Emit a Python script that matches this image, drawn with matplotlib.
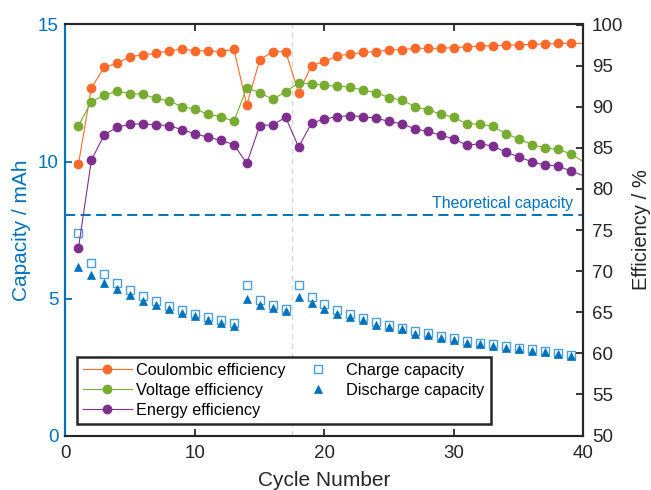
import matplotlib
matplotlib.use("Agg")
import matplotlib.pyplot as plt

plt.rcParams['font.family'] = ['Liberation Sans', 'DejaVu Sans']

# ---- data -------------------------------------------------------------
cycles = list(range(1, 41))          # efficiencies logged through cycle 40
cap_cycles = list(range(1, 40))      # capacities for cycles 1-39

coulombic_eff = [83.0, 92.3, 94.8, 95.3, 96.1, 96.3, 96.5, 96.8, 97.0, 96.8,
                 96.8, 96.7, 97.0, 90.2, 95.7, 96.7, 96.7, 91.7, 95.0, 95.5,
                 96.2, 96.4, 96.6, 96.7, 96.9, 96.95, 97.1, 97.1, 97.1, 97.2,
                 97.25, 97.4, 97.4, 97.5, 97.5, 97.6, 97.6, 97.7, 97.7, 97.7]
voltage_eff = [87.7, 90.6, 91.4, 91.9, 91.6, 91.5, 91.0, 90.7, 90.0, 89.7,
               89.1, 88.8, 88.2, 92.3, 91.7, 90.9, 91.8, 92.9, 92.8, 92.6,
               92.5, 92.4, 92.0, 91.7, 91.1, 90.8, 90.0, 89.6, 89.1, 88.7,
               87.9, 87.9, 87.6, 86.7, 86.1, 85.4, 85.0, 84.8, 84.3, 83.3]
energy_eff = [72.8, 83.5, 86.6, 87.5, 87.9, 87.9, 87.8, 87.7, 87.2, 86.7,
              86.3, 85.9, 85.4, 83.1, 87.7, 87.8, 88.7, 85.1, 88.0, 88.5,
              88.8, 88.9, 88.8, 88.6, 88.2, 87.9, 87.3, 87.0, 86.5, 86.1,
              85.3, 85.5, 85.2, 84.5, 83.9, 83.3, 82.9, 82.8, 82.2, 81.6]

charge_cap = [7.40, 6.31, 5.88, 5.57, 5.31, 5.09, 4.90, 4.72, 4.57, 4.45,
              4.33, 4.21, 4.11, 5.49, 4.96, 4.76, 4.63, 5.49, 5.04, 4.79,
              4.57, 4.43, 4.29, 4.13, 4.05, 3.94, 3.80, 3.74, 3.62, 3.57,
              3.45, 3.39, 3.34, 3.26, 3.21, 3.15, 3.08, 3.01, 2.95]
discharge_cap = [6.16, 5.85, 5.57, 5.33, 5.12, 4.91, 4.76, 4.60, 4.48, 4.35,
                 4.23, 4.11, 3.99, 4.98, 4.78, 4.67, 4.55, 5.06, 4.84, 4.60,
                 4.43, 4.33, 4.21, 4.05, 3.96, 3.88, 3.72, 3.66, 3.57, 3.49,
                 3.39, 3.35, 3.28, 3.21, 3.15, 3.10, 3.04, 2.98, 2.91]

theoretical_cap = 8.04
electrolyte_refresh = 17.5

x_ticks = [0, 10, 20, 30, 40]
cap_ticks = [0, 5, 10, 15]
eff_ticks = list(range(50, 101, 5))

# ---- styling ----------------------------------------------------------
BLUE = '#0072BD'
SQ_BLUE = '#4A9FDC'
ORANGE = '#FF6A2B'
GREEN = '#77AC30'
PURPLE = '#7E2F8E'
DARK = '#262626'
TICK_FS = 13.5
LABEL_FS = 15
SPINE_W = 1.5

fig = plt.figure(figsize=(6.51, 4.90), dpi=100)
ax = fig.add_axes([0.1006, 0.1112, 0.7957, 0.8388])
ax2 = ax.twinx()

# capacity (left axis)
ax.axvline(electrolyte_refresh, color='#D8D8D8', lw=1.0, ls=(0, (4, 3)), zorder=1)
ax.axhline(theoretical_cap, color=BLUE, lw=1.4, ls=(0, (5.2, 2.8)), zorder=2)
ax.annotate('Theoretical capacity', xy=(1, theoretical_cap),
            xycoords=('axes fraction', 'data'), xytext=(-7.6, 5),
            textcoords='offset points', ha='right', va='baseline',
            color=BLUE, fontsize=11.4)
sq = ax.plot(cap_cycles, charge_cap, ls='none', marker='s', ms=5.2,
             mfc='white', mec=SQ_BLUE, mew=1.0, zorder=3,
             label='Charge capacity')[0]
tri = ax.plot(cap_cycles, discharge_cap, ls='none', marker='^', ms=6.2,
              mfc=BLUE, mec=BLUE, mew=0.5, zorder=4,
              label='Discharge capacity')[0]

# efficiencies (right axis)
marks = list(range(len(cap_cycles)))
ce = ax2.plot(cycles, coulombic_eff, color=ORANGE, lw=0.8, marker='o', ms=6,
              markevery=marks, label='Coulombic efficiency')[0]
ve = ax2.plot(cycles, voltage_eff, color=GREEN, lw=0.8, marker='o', ms=6,
              markevery=marks, label='Voltage efficiency')[0]
ee = ax2.plot(cycles, energy_eff, color=PURPLE, lw=0.8, marker='o', ms=6,
              markevery=marks, label='Energy efficiency')[0]

ax.set_xlim(0, 40)
ax.set_ylim(0, 15)
ax2.set_ylim(50, 100)
ax.set_xticks(x_ticks)
ax.set_yticks(cap_ticks)
ax2.set_yticks(eff_ticks)

ax.tick_params(axis='x', which='both', direction='in', length=5, width=1.3,
               top=True, bottom=True, labelsize=TICK_FS, pad=7, colors=DARK)
ax.tick_params(axis='y', direction='in', length=5, width=1.3,
               colors=BLUE, labelsize=TICK_FS, pad=5)
ax2.tick_params(axis='y', direction='in', length=5, width=1.3,
                colors=DARK, labelsize=TICK_FS, pad=6)

for a in (ax, ax2):
    for s in a.spines.values():
        s.set_linewidth(SPINE_W)
        s.set_color(DARK)
    a.spines['left'].set_color(BLUE)

ax.set_xlabel('Cycle Number', fontsize=LABEL_FS, color=DARK, labelpad=6.5)
ax.set_ylabel('Capacity / mAh', fontsize=LABEL_FS, color=BLUE, labelpad=4.5)
ax2.set_ylabel('Efficiency / %', fontsize=14.5, color=DARK, labelpad=6)

leg = ax2.legend(handles=[ce, ve, ee, sq, tri], ncol=2, loc='lower left',
                 bbox_to_anchor=(0.022, 0.028), borderaxespad=0,
                 fontsize=11.7, frameon=True, fancybox=False, framealpha=1,
                 edgecolor=DARK, handlelength=3.0, handletextpad=0.25,
                 columnspacing=0.5, labelspacing=0.3, borderpad=0.38)
leg.get_frame().set_linewidth(1.8)

fig.savefig('out.png', dpi=100)
